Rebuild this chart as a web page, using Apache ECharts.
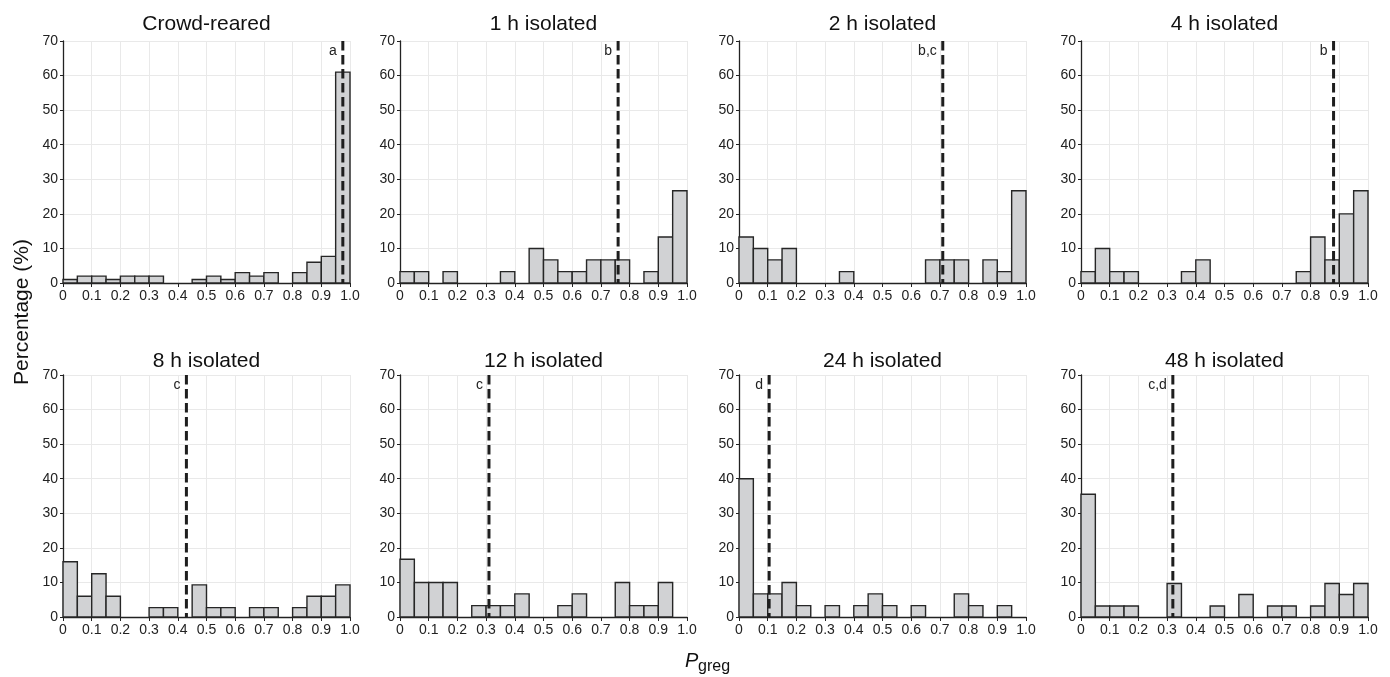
<!DOCTYPE html>
<html>
<head>
<meta charset="utf-8">
<script src="https://cdn.jsdelivr.net/npm/echarts@6/dist/echarts.min.js"></script>
<style>
html,body{margin:0;padding:0;background:#fff;}
#chart{width:1390px;height:677px;}
</style>
</head>
<body>
<div id="chart"></div>
<script>
// Bin edges: 20 bins of width 0.05 from 0 to 1
const binStarts = [0,0.05,0.1,0.15,0.2,0.25,0.3,0.35,0.4,0.45,0.5,0.55,0.6,0.65,0.7,0.75,0.8,0.85,0.9,0.95];
const binWidth = 0.05;

const titles = ['Crowd-reared','1 h isolated','2 h isolated','4 h isolated','8 h isolated','12 h isolated','24 h isolated','48 h isolated'];

const crowdReared = [1,2,2,1,2,2,2,0,0,1,2,1,3,2,3,0,3,6,7.7,61];
const iso1h  = [3.3,3.3,0,3.3,0,0,0,3.3,0,10,6.7,3.3,3.3,6.7,6.7,6.7,0,3.3,13.3,26.7];
const iso2h  = [13.3,10,6.7,10,0,0,0,3.3,0,0,0,0,0,6.7,6.7,6.7,0,6.7,3.3,26.7];
const iso4h  = [3.3,10,3.3,3.3,0,0,0,3.3,6.7,0,0,0,0,0,0,3.3,13.3,6.7,20,26.7];
const iso8h  = [16,6,12.5,6,0,0,2.7,2.7,0,9.3,2.7,2.7,0,2.7,2.7,0,2.7,6,6,9.3];
const iso12h = [16.7,10,10,10,0,3.3,3.3,3.3,6.7,0,0,3.3,6.7,0,0,10,3.3,3.3,10,0];
const iso24h = [40,6.7,6.7,10,3.3,0,3.3,0,3.3,6.7,3.3,0,3.3,0,0,6.7,3.3,0,3.3,0];
const iso48h = [35.5,3.2,3.2,3.2,0,0,9.7,0,0,3.2,0,6.5,0,3.2,3.2,0,3.2,9.7,6.5,9.7];

const meanValues = [0.975,0.76,0.71,0.88,0.43,0.31,0.105,0.32];
const meanLabels = ['a','b','b,c','b','c','c','d','c,d'];

const allSeries = [crowdReared, iso1h, iso2h, iso4h, iso8h, iso12h, iso24h, iso48h];

const yMax = 70;
const yInterval = 10;
const xInterval = 0.1;

const lefts = [63, 400, 739, 1081];
const tops = [41, 375];
const titleTops = [14, 351];
const gw = 287, gh = 242;

const FONT = '"Liberation Sans", Arial, sans-serif';

const grids = [], xAxes = [], yAxes = [], series = [], titleArr = [];
for (let i = 0; i < 8; i++) {
  const c = i % 4, r = Math.floor(i / 4);
  grids.push({left: lefts[c], top: tops[r], width: gw, height: gh, containLabel: false});
  titleArr.push({
    text: titles[i],
    left: lefts[c] + gw / 2, top: titleTops[r], textAlign: 'center', padding: 0,
    textStyle: {fontFamily: FONT, fontSize: 21, fontWeight: 'normal', color: '#111'}
  });
  xAxes.push({
    type: 'value', gridIndex: i, min: 0, max: 1, interval: xInterval,
    axisLine: {show: true, onZero: false, lineStyle: {color: '#222', width: 1.3}},
    axisTick: {show: true, length: 4, lineStyle: {color: '#222'}},
    splitLine: {show: true, lineStyle: {color: '#e9e9e9', width: 1}},
    axisLabel: {
      fontFamily: FONT, fontSize: 14, color: '#222', margin: 6,
      formatter: v => (v === 0 ? '0' : v.toFixed(1))
    }
  });
  yAxes.push({
    type: 'value', gridIndex: i, min: 0, max: yMax, interval: yInterval,
    axisLine: {show: true, lineStyle: {color: '#222', width: 1.3}},
    axisTick: {show: true, length: 3, lineStyle: {color: '#222'}},
    splitLine: {show: true, lineStyle: {color: '#e9e9e9', width: 1}},
    axisLabel: {fontFamily: FONT, fontSize: 14, color: '#222', margin: 5}
  });
  const data = allSeries[i].map((v, k) => [binStarts[k], binStarts[k] + binWidth, v]);
  series.push({
    type: 'custom', xAxisIndex: i, yAxisIndex: i,
    data: data,
    encode: {x: [0, 1], y: 2},
    renderItem: function (params, api) {
      const v = api.value(2);
      if (!v) return null;
      const p0 = api.coord([api.value(0), 0]);
      const p1 = api.coord([api.value(1), v]);
      return {
        type: 'rect',
        shape: {x: p0[0], y: p1[1], width: p1[0] - p0[0], height: p0[1] - p1[1]},
        style: {fill: '#d1d2d4', stroke: '#262626', lineWidth: 1.4}
      };
    },
    z: 2
  });
  series.push({
    type: 'custom', xAxisIndex: i, yAxisIndex: i,
    data: [[meanValues[i]]],
    encode: {x: 0},
    renderItem: (function (idx) {
      return function (params, api) {
        const x = api.value(0);
        const top = api.coord([x, yMax]);
        const bot = api.coord([x, 0]);
        return {
          type: 'group',
          children: [
            {
              type: 'line',
              shape: {x1: top[0], y1: top[1], x2: bot[0], y2: bot[1]},
              style: {stroke: '#1e1e1e', lineWidth: 3, lineDash: [9.5, 4.5]}
            },
            {
              type: 'text',
              style: {
                text: meanLabels[idx],
                x: top[0] - 6, y: top[1] + 10,
                align: 'right', verticalAlign: 'middle',
                fontFamily: FONT, fontSize: 14, fill: '#222'
              }
            }
          ]
        };
      };
    })(i),
    z: 5
  });
}

const chart = echarts.init(document.getElementById('chart'), null, {renderer: 'canvas'});
chart.setOption({
  animation: false,
  backgroundColor: '#fff',
  title: titleArr,
  grid: grids,
  xAxis: xAxes,
  yAxis: yAxes,
  series: series,
  graphic: [
    {
      type: 'text',
      rotation: Math.PI / 2,
      position: [12, 312],
      style: {text: 'Percentage (%)', fontFamily: FONT, fontSize: 21, fill: '#111', align: 'center', verticalAlign: 'top'}
    },
    {
      type: 'text', position: [685, 651],
      style: {text: 'P', fontFamily: FONT, fontSize: 20, fontStyle: 'italic', fill: '#111'}
    },
    {
      type: 'text', position: [698, 659],
      style: {text: 'greg', fontFamily: FONT, fontSize: 16, fill: '#111'}
    }
  ]
});
</script>
</body>
</html>
